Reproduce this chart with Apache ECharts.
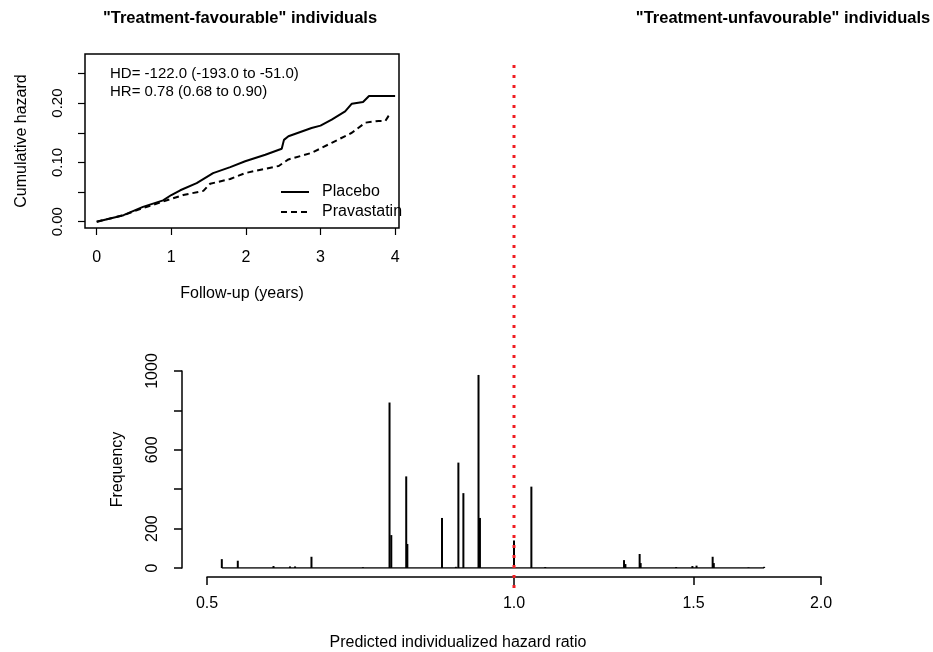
<!DOCTYPE html>
<html>
<head>
  <meta charset="utf-8">
  <title>Predicted individualized hazard ratio</title>
  <script src="https://cdn.jsdelivr.net/npm/echarts@6/dist/echarts.min.js"></script>
</head>
<body style="margin:0">
<div id="main" style="width: 933px;height:652px;"></div>
<script type="text/javascript">
  // histogram of predicted HR (bin position, count)
  var hrBins = [0.517, 0.536, 0.581, 0.603, 0.610, 0.633, 0.711, 0.755, 0.758, 0.784, 0.786,
    0.850, 0.877, 0.882, 0.892, 0.923, 0.926, 1.000, 1.040, 1.073, 1.282, 1.286, 1.328,
    1.331, 1.442, 1.496, 1.510, 1.566, 1.570, 1.698, 1.759];
  var freq = [45, 37, 10, 8, 8, 57, 4, 840, 167, 465, 122,
    254, 6, 535, 380, 980, 254, 140, 413, 5, 40, 20, 71,
    25, 5, 10, 12, 57, 25, 3, 6];
  var hrTicks = [0.5, 1.0, 1.5, 2.0];
  var freqLabels = [0, 200, 600, 1000];

  // inset: cumulative hazard curves
  var placeboT = [0, 0.36, 0.62, 0.89, 1.0, 1.12, 1.34, 1.56, 1.79, 1.99, 2.26, 2.48, 2.51, 2.57, 2.88, 3.0, 3.15, 3.33, 3.42, 3.57, 3.65, 4.0];
  var placeboH = [0, 0.011, 0.025, 0.036, 0.045, 0.053, 0.065, 0.082, 0.092, 0.102, 0.113, 0.123, 0.138, 0.144, 0.158, 0.162, 0.172, 0.186, 0.199, 0.202, 0.212, 0.212];
  var pravaT = [0, 0.36, 0.62, 0.89, 1.16, 1.43, 1.52, 1.79, 1.99, 2.1, 2.44, 2.57, 2.88, 3.15, 3.42, 3.60, 3.78, 3.87, 3.91, 3.93];
  var pravaH = [0, 0.011, 0.023, 0.034, 0.045, 0.052, 0.064, 0.072, 0.082, 0.085, 0.094, 0.105, 0.116, 0.133, 0.150, 0.167, 0.170, 0.170, 0.178, 0.181];
  var yearTicks = [0, 1, 2, 3, 4];
  var hazTicks = [0, 0.05, 0.10, 0.15, 0.20, 0.25];
  var hazLabels = [0, 0.10, 0.20];

  var FONT = '"Liberation Sans", Arial, sans-serif';

  function zip(a, b) {
    return a.map(function (v, i) { return [v, b[i]]; });
  }

  var myChart = echarts.init(document.getElementById('main'));

  var option = {
    backgroundColor: '#fff',
    animation: false,
    textStyle: { fontFamily: FONT, color: '#000' },
    graphic: [
      { type: 'text', x: 240, y: 18, style: { text: '"Treatment-favourable" individuals', font: 'bold 16.5px ' + FONT, fill: '#000', align: 'center', verticalAlign: 'middle' } },
      { type: 'text', x: 783, y: 18, style: { text: '"Treatment-unfavourable" individuals', font: 'bold 16.5px ' + FONT, fill: '#000', align: 'center', verticalAlign: 'middle' } },
      { type: 'text', x: 110, y: 74, style: { text: 'HD= -122.0 (-193.0 to -51.0)', font: '15px ' + FONT, fill: '#000', verticalAlign: 'middle' } },
      { type: 'text', x: 110, y: 92, style: { text: 'HR= 0.78 (0.68 to 0.90)', font: '15px ' + FONT, fill: '#000', verticalAlign: 'middle' } }
    ],
    legend: {
      data: ['Placebo', 'Pravastatin'],
      orient: 'vertical',
      left: 280,
      top: 184,
      padding: 0,
      itemWidth: 28,
      itemHeight: 14,
      itemGap: 4,
      itemStyle: { opacity: 0 },
      textStyle: { fontSize: 16, color: '#000', padding: [0, 0, 0, 8] }
    },
    grid: [
      { left: 85, top: 54, width: 314, height: 174, show: true, borderColor: '#000', borderWidth: 1.5, backgroundColor: 'transparent' },
      { left: 207, right: 112, top: 371, bottom: 84 },
      { left: 207, right: 112, top: 58, bottom: 64 }
    ],
    xAxis: [
      {
        gridIndex: 0, type: 'value', min: -0.157, max: 4.052,
        name: 'Follow-up (years)', nameLocation: 'middle', nameGap: 58,
        nameTextStyle: { fontSize: 16, color: '#000' },
        axisLine: { show: false, onZero: false },
        axisTick: { length: 7, lineStyle: { color: '#000', width: 1.2 }, customValues: yearTicks },
        axisLabel: { fontSize: 16, color: '#000', margin: 22, customValues: yearTicks },
        splitLine: { show: false }
      },
      {
        gridIndex: 1, type: 'log', logBase: 2, min: 0.5, max: 2, offset: 9,
        name: 'Predicted individualized hazard ratio', nameLocation: 'middle', nameGap: 58,
        nameTextStyle: { fontSize: 16, color: '#000', padding: [0, 112, 0, 0] },
        axisLine: { onZero: false, lineStyle: { color: '#000', width: 1.5 } },
        axisTick: { length: 8, lineStyle: { color: '#000', width: 1.5 }, customValues: hrTicks },
        axisLabel: { fontSize: 16, color: '#000', margin: 19, customValues: hrTicks,
          formatter: function (v) { return (+v).toFixed(1); } },
        splitLine: { show: false }
      },
      {
        gridIndex: 2, type: 'log', logBase: 2, min: 0.5, max: 2, show: false
      }
    ],
    yAxis: [
      {
        gridIndex: 0, type: 'value', min: -0.0106, max: 0.2828,
        name: 'Cumulative hazard', nameLocation: 'middle', nameGap: 55,
        nameTextStyle: { fontSize: 16, color: '#000' },
        axisLine: { show: false, onZero: false },
        axisTick: { show: true, length: 7, lineStyle: { color: '#000', width: 1.2 }, customValues: hazTicks },
        axisLabel: { fontSize: 15, color: '#000', rotate: 90, margin: 20, customValues: hazLabels,
          formatter: function (v) { return (+v).toFixed(2); } },
        splitLine: { show: false }
      },
      {
        gridIndex: 1, type: 'value', min: 0, max: 1000, interval: 200, offset: 25,
        name: 'Frequency', nameLocation: 'middle', nameGap: 56,
        nameTextStyle: { fontSize: 16, color: '#000' },
        axisLine: { show: true, onZero: false, lineStyle: { color: '#000', width: 1.5 } },
        axisTick: { show: true, length: 8, lineStyle: { color: '#000', width: 1.5 } },
        axisLabel: { fontSize: 16, color: '#000', rotate: 90, margin: 21,
          formatter: function (v) { return freqLabels.indexOf(v) >= 0 ? String(v) : ''; } },
        splitLine: { show: false }
      },
      {
        gridIndex: 2, type: 'value', min: 0, max: 1, show: false
      }
    ],
    series: [
      {
        name: 'Placebo', type: 'line', xAxisIndex: 0, yAxisIndex: 0,
        data: zip(placeboT, placeboH), symbol: 'none',
        lineStyle: { color: '#000', width: 2 }, itemStyle: { color: '#000' }
      },
      {
        name: 'Pravastatin', type: 'line', xAxisIndex: 0, yAxisIndex: 0,
        data: zip(pravaT, pravaH), symbol: 'none',
        lineStyle: { color: '#000', width: 2, type: [6, 4] }, itemStyle: { color: '#000' }
      },
      {
        name: 'baseline', type: 'line', xAxisIndex: 1, yAxisIndex: 1,
        data: [[hrBins[0], 0], [hrBins[hrBins.length - 1], 0]], symbol: 'none',
        lineStyle: { color: '#000', width: 1.5 }, z: 1
      },
      {
        name: 'freq', type: 'bar', xAxisIndex: 1, yAxisIndex: 1,
        data: zip(hrBins, freq), barWidth: 2,
        itemStyle: { color: '#000' }, z: 2
      },
      {
        name: 'ref', type: 'line', xAxisIndex: 2, yAxisIndex: 2,
        data: [[1, 0], [1, 1]], symbol: 'none',
        lineStyle: { color: '#f01e23', width: 3, type: [3, 7] }, z: 5
      }
    ]
  };

  myChart.setOption(option);
</script>
</body>
</html>
